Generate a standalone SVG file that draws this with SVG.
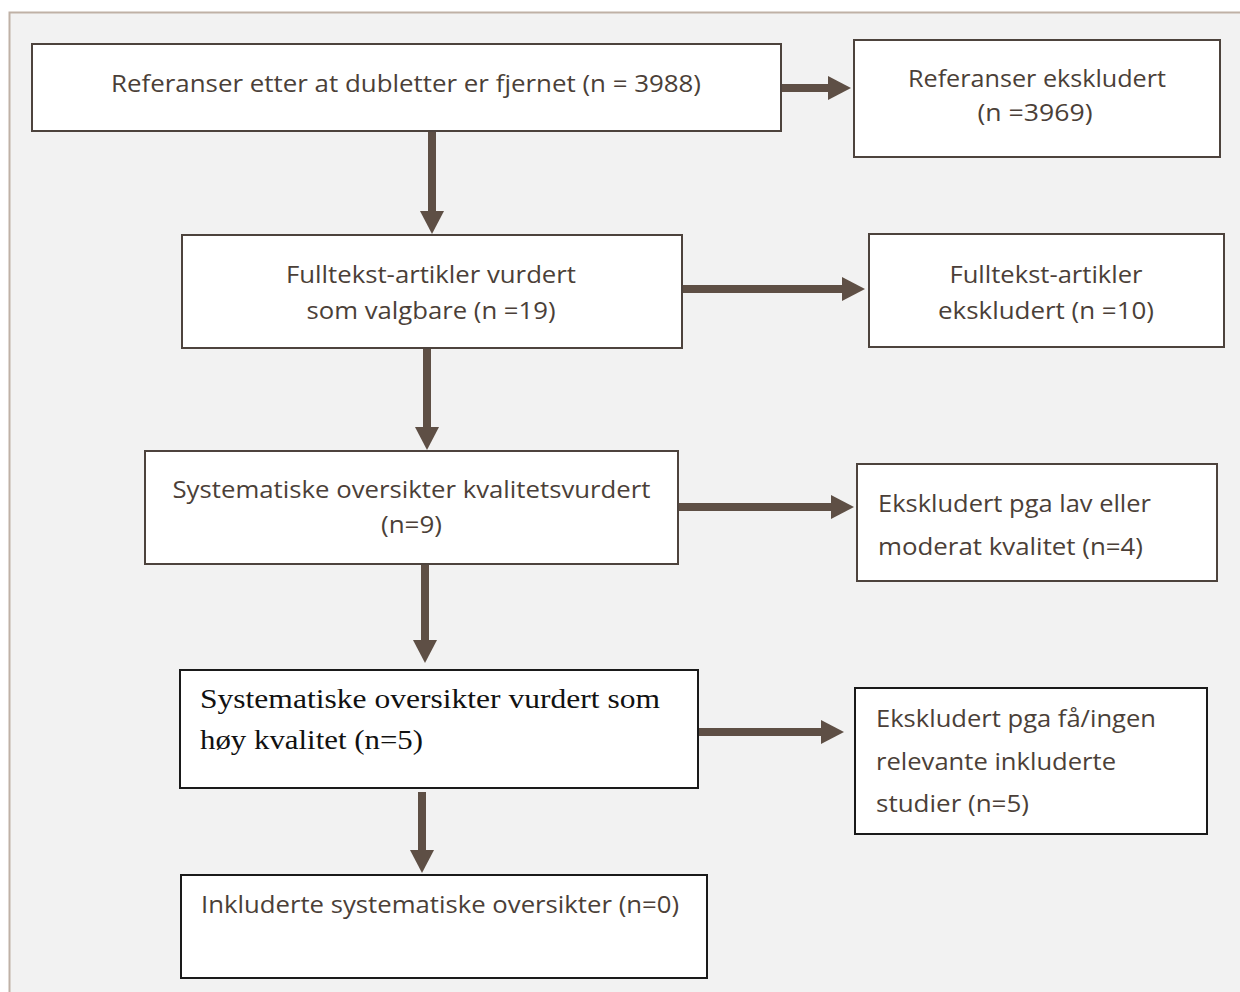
<svg xmlns="http://www.w3.org/2000/svg" width="1240" height="992" viewBox="0 0 1240 992">
<style>
.box{fill:#ffffff;stroke:#4d433d;stroke-width:2}
.boxk{fill:#ffffff;stroke:#1a1a1a;stroke-width:2}
.t{font-family:"Open Sans","Liberation Sans",sans-serif;font-size:24px;fill:#4b3f38}
.s{font-family:"Liberation Serif","DejaVu Serif",serif;font-size:27px;fill:#111111}
.c{text-anchor:middle}
.arr{stroke:#5e4f45;stroke-width:8;fill:none;marker-end:url(#ah)}
</style>
<defs>
<marker id="ah" viewBox="0 0 23 24" refX="0" refY="12" markerWidth="23" markerHeight="24" markerUnits="userSpaceOnUse" orient="auto">
<path d="M0,0 L23,12 L0,24 z" fill="#5e4f45"/>
</marker>
</defs>
<rect x="0" y="0" width="1240" height="992" fill="#ffffff"/>
<rect x="9.5" y="12.5" width="1240" height="990" fill="#f2f2f2" stroke="#bfb1a6" stroke-width="2"/>

<g id="connectors">
<line class="arr" x1="781" y1="88" x2="828" y2="88"/>
<line class="arr" x1="432" y1="132" x2="432" y2="211"/>
<line class="arr" x1="682" y1="289" x2="842" y2="289"/>
<line class="arr" x1="427" y1="348" x2="427" y2="427"/>
<line class="arr" x1="678" y1="507" x2="831" y2="507"/>
<line class="arr" x1="425" y1="564" x2="425" y2="640"/>
<line class="arr" x1="699" y1="732" x2="821" y2="732"/>
<line class="arr" x1="422" y1="792" x2="422" y2="850"/>
</g>

<g id="n1">
<rect class="box" x="32" y="44" width="749" height="87"/>
<text class="t c" x="406" y="92" textLength="590" lengthAdjust="spacingAndGlyphs">Referanser etter at dubletter er fjernet (n = 3988)</text>
</g>
<g id="n2">
<rect class="box" x="854" y="40" width="366" height="117"/>
<text class="t c" x="1037" y="87" textLength="258" lengthAdjust="spacingAndGlyphs">Referanser ekskludert</text>
<text class="t c" x="1035" y="121" textLength="115" lengthAdjust="spacingAndGlyphs">(n =3969)</text>
</g>
<g id="n3">
<rect class="box" x="182" y="235" width="500" height="113"/>
<text class="t c" x="431" y="283" textLength="290" lengthAdjust="spacingAndGlyphs">Fulltekst-artikler vurdert</text>
<text class="t c" x="431" y="319" textLength="249" lengthAdjust="spacingAndGlyphs">som valgbare (n =19)</text>
</g>
<g id="n4">
<rect class="box" x="869" y="234" width="355" height="113"/>
<text class="t c" x="1046" y="283" textLength="193" lengthAdjust="spacingAndGlyphs">Fulltekst-artikler</text>
<text class="t c" x="1046" y="319" textLength="216" lengthAdjust="spacingAndGlyphs">ekskludert (n =10)</text>
</g>
<g id="n5">
<rect class="box" x="145" y="451" width="533" height="113"/>
<text class="t c" x="411.5" y="498" textLength="478" lengthAdjust="spacingAndGlyphs">Systematiske oversikter kvalitetsvurdert</text>
<text class="t c" x="411.5" y="533" textLength="61" lengthAdjust="spacingAndGlyphs">(n=9)</text>
</g>
<g id="n6">
<rect class="box" x="857" y="464" width="360" height="117"/>
<text class="t" x="878" y="512" textLength="273" lengthAdjust="spacingAndGlyphs">Ekskludert pga lav eller</text>
<text class="t" x="878" y="555" textLength="265" lengthAdjust="spacingAndGlyphs">moderat kvalitet (n=4)</text>
</g>
<g id="n7">
<rect class="boxk" x="180" y="670" width="518" height="118"/>
<text class="s" x="200" y="708" textLength="460" lengthAdjust="spacingAndGlyphs">Systematiske oversikter vurdert som</text>
<text class="s" x="200" y="749" textLength="223" lengthAdjust="spacingAndGlyphs">høy kvalitet (n=5)</text>
</g>
<g id="n8">
<rect class="boxk" x="855" y="688" width="352" height="146"/>
<text class="t" x="876" y="727" textLength="280" lengthAdjust="spacingAndGlyphs">Ekskludert pga få/ingen</text>
<text class="t" x="876" y="770" textLength="240" lengthAdjust="spacingAndGlyphs">relevante inkluderte</text>
<text class="t" x="876" y="812" textLength="153" lengthAdjust="spacingAndGlyphs">studier (n=5)</text>
</g>
<g id="n9">
<rect class="boxk" x="181" y="875" width="526" height="103"/>
<text class="t" x="201" y="913" textLength="478" lengthAdjust="spacingAndGlyphs">Inkluderte systematiske oversikter (n=0)</text>
</g>
</svg>
